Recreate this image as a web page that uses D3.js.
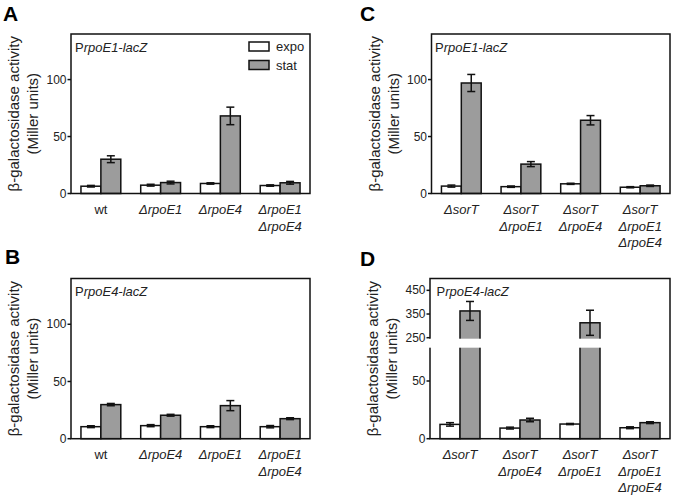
<!DOCTYPE html>
<html>
<head>
<meta charset="utf-8">
<script src="https://cdn.jsdelivr.net/npm/d3@7"></script>
<style>
  html, body { margin: 0; padding: 0; background: #fff; }
  svg { display: block; font-family: Arial, "Liberation Sans", sans-serif; }
</style>
</head>
<body>
<script>
// ---------------- DATA ----------------
const series = ["expo", "stat"];
const seriesColors = ["#ffffff", "#9c9c9c"];

// Panel A: PrpoE1-lacZ
const catsA = ["wt", "ΔrpoE1", "ΔrpoE4", "ΔrpoE1\nΔrpoE4"];
const expoA = [6.4, 7.3, 8.8, 7.0];
const expoErrA = [0.7, 0.8, 0.6, 0.6];
const statA = [30.1, 9.6, 68.1, 9.4];
const statErrA = [3.0, 1.2, 7.7, 1.2];

// Panel B: PrpoE4-lacZ
const catsB = ["wt", "ΔrpoE4", "ΔrpoE1", "ΔrpoE1\nΔrpoE4"];
const expoB = [10.5, 11.4, 10.5, 10.5];
const expoErrB = [0.8, 0.9, 0.8, 1.0];
const statB = [29.8, 20.5, 28.9, 17.5];
const statErrB = [1.0, 0.8, 4.4, 0.8];

// Panel C: PrpoE1-lacZ
const catsC = ["ΔsorT", "ΔsorT\nΔrpoE1", "ΔsorT\nΔrpoE4", "ΔsorT\nΔrpoE1\nΔrpoE4"];
const expoC = [6.5, 6.0, 8.5, 5.5];
const expoErrC = [0.9, 0.6, 0.5, 0.5];
const statC = [97.0, 25.8, 64.3, 6.8];
const statErrC = [7.5, 2.2, 4.1, 0.6];

// Panel D: PrpoE4-lacZ (broken axis)
const catsD = ["ΔsorT", "ΔsorT\nΔrpoE4", "ΔsorT\nΔrpoE1", "ΔsorT\nΔrpoE1\nΔrpoE4"];
const expoD = [12.4, 9.2, 12.7, 9.5];
const expoErrD = [1.5, 0.8, 0.5, 0.8];
const statD = [363, 16.2, 313, 13.9];
const statErrD = [40, 1.5, 53, 0.8];

const ticksABC = [0, 50, 100];
const ticksD = [0, 50, 250, 350, 450];
const domainABC = [0, 140];
const domainD = [0, 78, 250, 500];   // lower segment 0-78, upper segment 250-500
const breakD = [78, 250];

const yTitle1 = "β-galactosidase activity";
const yTitle2 = "(Miller units)";

// ---------------- LAYOUT ----------------
const W = 675, H = 499;
const svg = d3.select("body").append("svg").attr("width", W).attr("height", H);
svg.append("rect").attr("width", W).attr("height", H).attr("fill", "#fff");

const panels = [
  { letter: "A", lx: 3, ly: 20.5, x0: 71, x1: 310, t: 34, b: 193.5, cats: catsA,
    vals: [expoA, statA], errs: [expoErrA, statErrA], ticks: ticksABC, domain: domainABC,
    promoter: "rpoE1-lacZ", titleDx: 4, legend: true },
  { letter: "B", lx: 5, ly: 263.5, x0: 71, x1: 310, t: 278.5, b: 438.7, cats: catsB,
    vals: [expoB, statB], errs: [expoErrB, statErrB], ticks: ticksABC, domain: domainABC,
    promoter: "rpoE4-lacZ", titleDx: 4 },
  { letter: "C", lx: 360, ly: 21, x0: 431.5, x1: 670, t: 34, b: 193.5, cats: catsC,
    vals: [expoC, statC], errs: [expoErrC, statErrC], ticks: ticksABC, domain: domainABC,
    promoter: "rpoE1-lacZ", titleDx: 3.5 },
  { letter: "D", lx: 360, ly: 266, x0: 430, x1: 670, t: 278.5, b: 438.7, cats: catsD,
    vals: [expoD, statD], errs: [expoErrD, statErrD], ticks: ticksD, domain: domainD,
    promoter: "rpoE4-lacZ", titleDx: 6.5, broken: breakD },
];

const tickLayer = svg.append("g").attr("class", "ticks");

function drawPanel(p) {
  const g = svg.append("g");
  const x = d3.scaleBand().domain(p.cats).range([p.x0, p.x1])
    .paddingInner(1 / 3).paddingOuter(1 / 6);
  const xs = d3.scaleBand().domain(series).range([0, x.bandwidth()]);
  let y;
  if (p.domain.length === 4) {
    const lowPx = p.b - (p.b - 381) / 50 * p.domain[1];
    const upBottomPx = 337.7;
    y = d3.scaleLinear().domain(p.domain).range([p.b, lowPx, upBottomPx, p.t]);
  } else {
    y = d3.scaleLinear().domain(p.domain).range([p.b, p.t]);
  }

  // bars
  series.forEach((s, si) => {
    g.append("g").selectAll("rect").data(p.vals[si]).join("rect")
      .attr("x", (d, i) => x(p.cats[i]) + xs(s))
      .attr("y", d => y(d))
      .attr("width", xs.bandwidth())
      .attr("height", d => y(0) - y(d))
      .attr("fill", seriesColors[si])
      .attr("stroke", "#111")
      .attr("stroke-width", 1.5);
  });

  // error bars
  series.forEach((s, si) => {
    const eg = g.append("g").attr("stroke", "#111").attr("stroke-width", 1.5);
    p.vals[si].forEach((v, i) => {
      const e = p.errs[si][i];
      const cx = x(p.cats[i]) + xs(s) + xs.bandwidth() / 2;
      const yHi = y(v + e), yLo = y(v - e);
      eg.append("line").attr("x1", cx).attr("x2", cx).attr("y1", yHi).attr("y2", yLo);
      eg.append("line").attr("x1", cx - 4).attr("x2", cx + 4).attr("y1", yHi).attr("y2", yHi);
      eg.append("line").attr("x1", cx - 4).attr("x2", cx + 4).attr("y1", yLo).attr("y2", yLo);
    });
  });

  // frame
  g.append("rect").attr("x", p.x0).attr("y", p.t)
    .attr("width", p.x1 - p.x0).attr("height", p.b - p.t)
    .attr("fill", "none").attr("stroke", "#111").attr("stroke-width", 1.5);

  // axis break gap
  if (p.broken) {
    const yTop = y(p.broken[1]) + 1, yBot = y(p.broken[0]) - 1;
    g.append("rect").attr("x", p.x0 - 2).attr("y", yTop)
      .attr("width", p.x1 - p.x0 - 1).attr("height", yBot - yTop)
      .attr("fill", "#fff");
  }

  // y axis ticks (drawn with the scale) on a top layer
  p.ticks.forEach(tv => {
    const ty = y(tv);
    tickLayer.append("line").attr("x1", p.x0 - 3.5).attr("x2", p.x0).attr("y1", ty).attr("y2", ty)
      .attr("stroke", "#111").attr("stroke-width", 1.5);
    tickLayer.append("text").attr("x", p.x0 - 4.5).attr("y", ty).attr("dy", "0.34em")
      .attr("text-anchor", "end").attr("fill", "#222").style("font-size", "12px")
      .text(d3.format("d")(tv));
  });

  // category labels
  p.cats.forEach(c => {
    const lines = c.split("\n");
    const t = g.append("text")
      .attr("x", x(c) + x.bandwidth() / 2)
      .attr("y", p.b + 20.5)
      .attr("text-anchor", "middle")
      .attr("fill", "#222")
      .style("font-size", "13px")
      .style("font-style", c === "wt" ? "normal" : "italic");
    lines.forEach((l, li) => {
      t.append("tspan").attr("x", x(c) + x.bandwidth() / 2)
        .attr("y", p.b + 20.5 + li * 16.5).text(l);
    });
  });

  // y axis title
  const cy = (p.t + p.b) / 2;
  g.append("text").attr("transform", `translate(${p.x0 - 52},${cy}) rotate(-90)`)
    .attr("text-anchor", "middle").attr("fill", "#222").style("font-size", "15px").text(yTitle1);
  g.append("text").attr("transform", `translate(${p.x0 - 33},${cy}) rotate(-90)`)
    .attr("text-anchor", "middle").attr("fill", "#222").style("font-size", "15px").text(yTitle2);

  // promoter title
  const pt = g.append("text").attr("x", p.x0 + p.titleDx).attr("y", p.t + 17.5)
    .attr("fill", "#222").style("font-size", "13px");
  pt.append("tspan").text("P");
  pt.append("tspan").style("font-style", "italic").text(p.promoter);

  // panel letter
  g.append("text").attr("x", p.lx).attr("y", p.ly)
    .style("font-size", "21px").style("font-weight", "bold").attr("fill", "#000").text(p.letter);

  // legend
  if (p.legend) {
    const lg = g.append("g");
    series.forEach((s, si) => {
      const ly = p.t + 8 + si * 18.5;
      lg.append("rect").attr("x", 249).attr("y", ly).attr("width", 20).attr("height", 9)
        .attr("fill", seriesColors[si]).attr("stroke", "#111").attr("stroke-width", 1.5);
      lg.append("text").attr("x", 276).attr("y", ly + 4.5).attr("dy", "0.35em")
        .attr("fill", "#222").style("font-size", "13px").text(s);
    });
  }
}

panels.forEach(drawPanel);
tickLayer.raise();
</script>
</body>
</html>
